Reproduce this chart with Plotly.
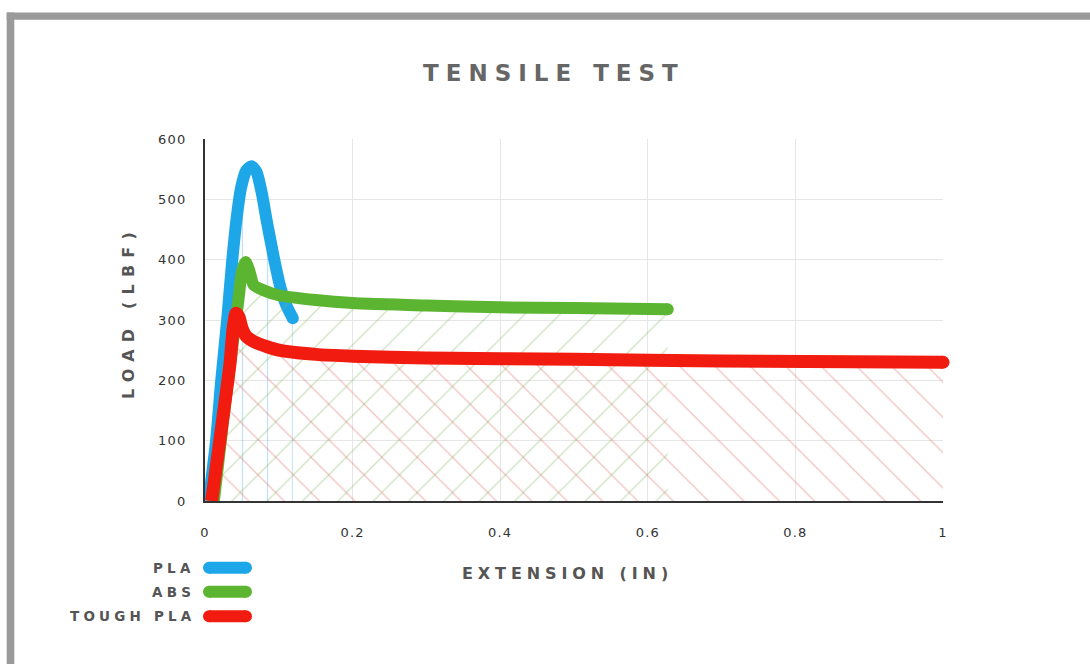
import plotly.graph_objects as go

# ---------------- data ----------------
series_names = ["PLA", "ABS", "TOUGH PLA"]
series_colors = ["#1ea7e8", "#5cb531", "#f21b0f"]
hatch_colors = ["rgba(110,185,235,0.85)", "rgba(130,180,95,0.8)", "rgba(220,100,95,0.8)"]

pla_x = [0.005, 0.015, 0.022, 0.030, 0.037, 0.043, 0.049, 0.056, 0.063, 0.070, 0.077, 0.084, 0.093, 0.102, 0.110, 0.119]
pla_y = [0, 100, 200, 300, 400, 470, 520, 548, 555, 545, 510, 462, 405, 355, 325, 303]

abs_x = [0.012, 0.030, 0.045, 0.050, 0.055, 0.060, 0.066, 0.080, 0.100, 0.150, 0.200, 0.300, 0.400, 0.500, 0.627]
abs_y = [0, 190, 330, 380, 396, 382, 358, 349, 341, 333, 328, 324, 321, 320, 318]

tough_x = [0.009, 0.022, 0.034, 0.038, 0.042, 0.046, 0.050, 0.056, 0.070, 0.100, 0.150, 0.200, 0.300, 0.500, 0.700, 1.000]
tough_y = [0, 118, 229, 285, 311, 305, 287, 273, 262, 250, 243, 240, 237, 235, 232, 230]

x_ticks = [0, 0.2, 0.4, 0.6, 0.8, 1]
x_ticktext = ["0", "0.2", "0.4", "0.6", "0.8", "1"]
y_ticks = [0, 100, 200, 300, 400, 500, 600]
y_ticktext = ["0", "100", "200", "300", "400", "500", "600"]

title_text = "TENSILE TEST"
x_title = "EXTENSION (IN)"
y_title = "LOAD (LBF)"

# ---------------- layout geometry ----------------
W, H = 1090, 664
L, R, T, B = 205, 943, 138.5, 501.5
PW, PH = R - L, B - T
FONT = "DejaVu Sans"


def px(xp):
    return (xp - L) / PW


def py(yp):
    return (B - yp) / PH


def spaced(text, sp):
    return '<span style="letter-spacing:%spx">%s</span>' % (sp, text)


fig = go.Figure()

xs = [pla_x, abs_x, tough_x]
ys = [pla_y, abs_y, tough_y]
shapes_pat = ["|", "/", "\\"]
sizes_pat = [25, 25, 25]
widths = [12, 12, 13]

for i in range(3):
    fig.add_trace(go.Scatter(
        x=xs[i], y=ys[i], name=series_names[i],
        mode="lines",
        line=dict(color=series_colors[i], width=widths[i], shape="spline", smoothing=0.6),
        fill="tozeroy",
        fillcolor="rgba(0,0,0,0)",
        fillpattern=dict(shape=shapes_pat[i], fgcolor=hatch_colors[i],
                         bgcolor="rgba(0,0,0,0)", size=sizes_pat[i], solidity=0.05),
        showlegend=False,
        hoverinfo="x+y+name",
    ))
    # rounded end cap of the curve (last data point)
    fig.add_trace(go.Scatter(
        x=[xs[i][-1]], y=[ys[i][-1]], mode="markers",
        marker=dict(size=widths[i], color=series_colors[i], opacity=1, line=dict(width=0)),
        cliponaxis=False, showlegend=False, hoverinfo="skip",
    ))

shapes = []
frame_col = "#9a9a9a"
# frame (top and left grey bands)
shapes.append(dict(type="rect", xref="paper", yref="paper", x0=px(6.7), x1=px(1095),
                   y0=py(19), y1=py(11.7), fillcolor=frame_col, line=dict(width=0), layer="above"))
shapes.append(dict(type="rect", xref="paper", yref="paper", x0=px(6.7), x1=px(14.3),
                   y0=py(670), y1=py(11.7), fillcolor=frame_col, line=dict(width=0), layer="above"))

annotations = []
# custom legend: text then rounded swatch
legend_y = [568.5, 592.5, 617]
for i in range(3):
    yc = legend_y[i]
    x0, x1, h = 203, 252, 12
    r = h / 2
    col = series_colors[i]
    shapes.append(dict(type="rect", xref="paper", yref="paper", x0=px(x0 + r), x1=px(x1 - r),
                       y0=py(yc + r), y1=py(yc - r), fillcolor=col, line=dict(width=0)))
    shapes.append(dict(type="circle", xref="paper", yref="paper", x0=px(x0), x1=px(x0 + h),
                       y0=py(yc + r), y1=py(yc - r), fillcolor=col, line=dict(width=0)))
    shapes.append(dict(type="circle", xref="paper", yref="paper", x0=px(x1 - h), x1=px(x1),
                       y0=py(yc + r), y1=py(yc - r), fillcolor=col, line=dict(width=0)))
    annotations.append(dict(
        xref="paper", yref="paper", x=px(197), y=py(yc), xanchor="right", yanchor="middle",
        text=spaced(series_names[i], 4.2),
        showarrow=False, font=dict(family=FONT, size=13.5, color="#555555", weight="bold"),
    ))

# title
annotations.append(dict(
    xref="paper", yref="paper", x=px(554), y=py(72), xanchor="center", yanchor="middle",
    text=spaced(title_text, 7), showarrow=False,
    font=dict(family=FONT, size=23, color="#666666", weight="bold"),
))
# axis titles
annotations.append(dict(
    xref="paper", yref="paper", x=px(567), y=py(574), xanchor="center", yanchor="middle",
    text=spaced(x_title, 4.9), showarrow=False,
    font=dict(family=FONT, size=16, color="#555555", weight="bold"),
))
annotations.append(dict(
    xref="paper", yref="paper", x=px(128), y=py(312), xanchor="center", yanchor="middle",
    text=spaced(y_title, 7.2), showarrow=False, textangle=-90,
    font=dict(family=FONT, size=16, color="#555555", weight="bold"),
))

fig.update_layout(
    width=W, height=H,
    margin=dict(l=L, r=W - R, t=T, b=H - B),
    paper_bgcolor="white", plot_bgcolor="white",
    shapes=shapes, annotations=annotations,
    font=dict(family=FONT, color="#333333"),
)
fig.update_xaxes(
    range=[0, 1], tickvals=x_ticks, ticktext=[spaced(t, 1.2) for t in x_ticktext],
    showgrid=True, gridcolor="#e6e6e6", gridwidth=1,
    showline=True, linecolor="#333333", linewidth=2,
    zeroline=False, ticks="", ticklabelstandoff=18,
    tickfont=dict(family=FONT, size=13, color="#333333"),
)
fig.update_yaxes(
    range=[0, 600], tickvals=y_ticks, ticktext=[spaced(t, 1.2) for t in y_ticktext],
    showgrid=True, gridcolor="#e6e6e6", gridwidth=1,
    showline=True, linecolor="#333333", linewidth=2,
    zeroline=False, ticks="", ticklabelstandoff=14,
    tickfont=dict(family=FONT, size=13, color="#333333"),
)

fig.write_html("out.html", config={"displayModeBar": False},
               post_script="document.body.style.margin='0';document.body.style.overflow='hidden';")
